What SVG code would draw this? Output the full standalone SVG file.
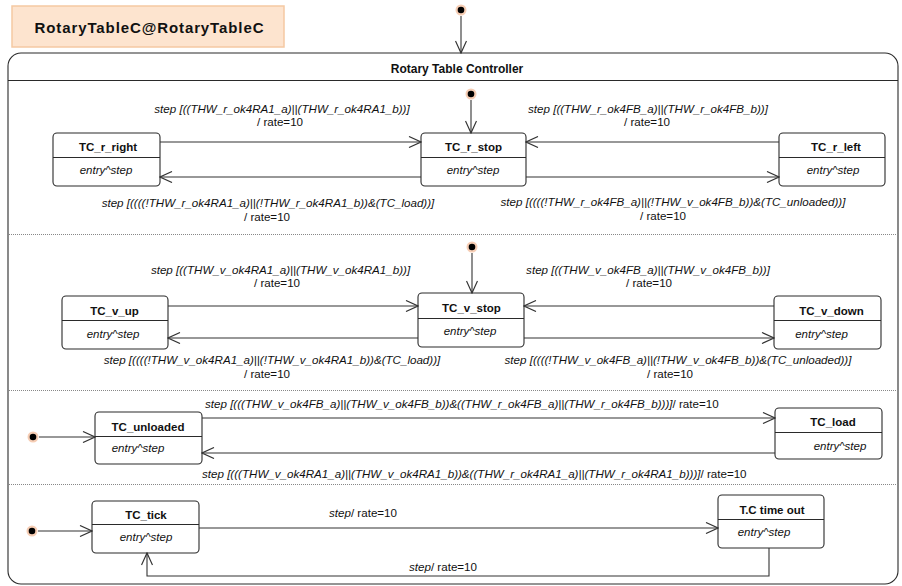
<svg xmlns="http://www.w3.org/2000/svg" width="902" height="586" viewBox="0 0 902 586">
  <style>
    text { font-family: "Liberation Sans", Arial, sans-serif; fill: #111; }
    .name { font-size: 11.5px; font-weight: bold; text-anchor: middle; }
    .entry { font-size: 11.5px; font-style: italic; text-anchor: middle; }
    .lbl { font-size: 11.6px; font-style: italic; text-anchor: middle; }
    .lbl-s { font-size: 11.6px; font-style: italic; }
    .up { font-style: normal; }
    .box { fill: #fff; stroke: #2a2a2a; stroke-width: 1.1; }
    .sep { stroke: #2a2a2a; stroke-width: 1; }
    .edge { fill: none; stroke: #333; stroke-width: 1.1; marker-end: url(#open); }
    .region { stroke: #888; stroke-width: 1; stroke-dasharray: 1 1; }
    .halo { fill: #f6cdb4; }
    .dot { fill: #000; }
  </style>
  <defs>
    <marker id="open" viewBox="0 0 14 12" refX="13" refY="6" markerWidth="14" markerHeight="12" orient="auto" markerUnits="userSpaceOnUse">
      <path d="M1,0.5 L13,6 L1,11.5" fill="none" stroke="#333" stroke-width="1.2"/>
    </marker>
  </defs>

  <!-- package label -->
  <g id="package">
    <rect x="12" y="6" width="272" height="41" fill="#fde4cf" stroke="#f5c9a3" stroke-width="1.5"/>
    <text x="149" y="33" font-size="15" font-weight="bold" text-anchor="middle" textLength="229" lengthAdjust="spacing">RotaryTableC@RotaryTableC</text>
  </g>

  <!-- composite state -->
  <g id="RotaryTableController">
    <rect x="8" y="53" width="890" height="531" rx="13" ry="13" fill="#fff" stroke="#2a2a2a" stroke-width="1.1"/>
    <line class="sep" x1="8" y1="80.5" x2="898" y2="80.5"/>
    <text x="457" y="73" font-size="12" font-weight="bold" text-anchor="middle">Rotary Table Controller</text>
    <line class="region" x1="9" y1="234.5" x2="897" y2="234.5"/>
    <line class="region" x1="9" y1="390.5" x2="897" y2="390.5"/>
    <line class="region" x1="9" y1="484.5" x2="897" y2="484.5"/>
  </g>

  <!-- initial pseudostates -->
  <g id="init-top"><circle class="halo" cx="461" cy="10" r="5.5"/><circle class="dot" cx="461" cy="10" r="3.3"/></g>
  <g id="init-r"><circle class="halo" cx="471" cy="94" r="5.5"/><circle class="dot" cx="471" cy="94" r="3.3"/></g>
  <g id="init-v"><circle class="halo" cx="472" cy="247" r="5.5"/><circle class="dot" cx="472" cy="247" r="3.3"/></g>
  <g id="init-load"><circle class="halo" cx="33" cy="437" r="5.5"/><circle class="dot" cx="33" cy="437" r="3.3"/></g>
  <g id="init-tick"><circle class="halo" cx="32" cy="531" r="5.5"/><circle class="dot" cx="32" cy="531" r="3.3"/></g>

  <!-- states -->
  <g id="TC_r_right">
    <rect class="box" x="53" y="133" width="107" height="53" rx="4"/>
    <line class="sep" x1="53" y1="157.5" x2="160" y2="157.5"/>
    <text class="name" x="108" y="151">TC_r_right</text>
    <text class="entry" x="106" y="174">entry^step</text>
  </g>
  <g id="TC_r_stop">
    <rect class="box" x="421" y="133" width="105" height="53" rx="4"/>
    <line class="sep" x1="421" y1="157.5" x2="526" y2="157.5"/>
    <text class="name" x="473.5" y="151">TC_r_stop</text>
    <text class="entry" x="473" y="174">entry^step</text>
  </g>
  <g id="TC_r_left">
    <rect class="box" x="779" y="133" width="106" height="53" rx="4"/>
    <line class="sep" x1="779" y1="157.5" x2="885" y2="157.5"/>
    <text class="name" x="836" y="151">TC_r_left</text>
    <text class="entry" x="833" y="174">entry^step</text>
  </g>

  <g id="TC_v_up">
    <rect class="box" x="62" y="296" width="106" height="53" rx="4"/>
    <line class="sep" x1="62" y1="320.5" x2="168" y2="320.5"/>
    <text class="name" x="114.5" y="315">TC_v_up</text>
    <text class="entry" x="113" y="338">entry^step</text>
  </g>
  <g id="TC_v_stop">
    <rect class="box" x="418" y="293" width="106" height="54" rx="4"/>
    <line class="sep" x1="418" y1="318.5" x2="524" y2="318.5"/>
    <text class="name" x="471.5" y="312">TC_v_stop</text>
    <text class="entry" x="470" y="335">entry^step</text>
  </g>
  <g id="TC_v_down">
    <rect class="box" x="774" y="296" width="107" height="53" rx="4"/>
    <line class="sep" x1="774" y1="320.5" x2="881" y2="320.5"/>
    <text class="name" x="831.5" y="315">TC_v_down</text>
    <text class="entry" x="821.5" y="338">entry^step</text>
  </g>

  <g id="TC_unloaded">
    <rect class="box" x="95" y="412" width="107" height="52" rx="4"/>
    <line class="sep" x1="95" y1="436.5" x2="202" y2="436.5"/>
    <text class="name" x="148" y="431">TC_unloaded</text>
    <text class="entry" x="138" y="452">entry^step</text>
  </g>
  <g id="TC_load">
    <rect class="box" x="775" y="408" width="107" height="51" rx="4"/>
    <line class="sep" x1="775" y1="432.5" x2="882" y2="432.5"/>
    <text class="name" x="833" y="426">TC_load</text>
    <text class="entry" x="840" y="450">entry^step</text>
  </g>

  <g id="TC_tick">
    <rect class="box" x="92" y="501" width="107" height="52" rx="4"/>
    <line class="sep" x1="92" y1="524.5" x2="199" y2="524.5"/>
    <text class="name" x="146" y="519">TC_tick</text>
    <text class="entry" x="146" y="541">entry^step</text>
  </g>
  <g id="TC_time_out">
    <rect class="box" x="718" y="495" width="106" height="53" rx="4"/>
    <line class="sep" x1="718" y1="519.5" x2="824" y2="519.5"/>
    <text class="name" x="772" y="514">T.C time out</text>
    <text class="entry" x="764" y="536">entry^step</text>
  </g>

  <!-- transitions -->
  <g id="connectors">
    <path class="edge" d="M461,16 V53"/>
    <path class="edge" d="M471,100 V133"/>
    <path class="edge" d="M472,253 V293"/>
    <path class="edge" d="M39,437 H95"/>
    <path class="edge" d="M38,531 H92"/>

    <path class="edge" d="M160,142 H421"/>
    <path class="edge" d="M421,177 H160"/>
    <path class="edge" d="M779,142 H526"/>
    <path class="edge" d="M526,177 H779"/>

    <path class="edge" d="M168,306 H418"/>
    <path class="edge" d="M418,338 H168"/>
    <path class="edge" d="M774,306 H524"/>
    <path class="edge" d="M524,338 H774"/>

    <path class="edge" d="M202,418 H775"/>
    <path class="edge" d="M775,453 H202"/>

    <path class="edge" d="M199,528 H718"/>
    <path class="edge" d="M769,548 V576 H147 V553"/>

    <text class="lbl" x="282" y="113">step [((THW_r_ok4RA1_a)||(THW_r_ok4RA1_b))]</text>
    <text class="lbl" x="280" y="126"><tspan class="up">/ rate=10</tspan></text>
    <text class="lbl" x="268" y="207">step [((((!THW_r_ok4RA1_a)||(!THW_r_ok4RA1_b))&amp;(TC_load))]</text>
    <text class="lbl" x="267" y="221"><tspan class="up">/ rate=10</tspan></text>
    <text class="lbl" x="648" y="113">step [((THW_r_ok4FB_a)||(THW_r_ok4FB_b))]</text>
    <text class="lbl" x="647" y="126"><tspan class="up">/ rate=10</tspan></text>
    <text class="lbl" x="673" y="206">step [((((!THW_r_ok4FB_a)||(!THW_v_ok4FB_b))&amp;(TC_unloaded))]</text>
    <text class="lbl" x="663" y="220"><tspan class="up">/ rate=10</tspan></text>

    <text class="lbl" x="280.5" y="274">step [((THW_v_ok4RA1_a)||(THW_v_ok4RA1_b))]</text>
    <text class="lbl" x="277" y="287"><tspan class="up">/ rate=10</tspan></text>
    <text class="lbl" x="272" y="364">step [((((!THW_v_ok4RA1_a)||(!THW_v_ok4RA1_b))&amp;(TC_load))]</text>
    <text class="lbl" x="267" y="378"><tspan class="up">/ rate=10</tspan></text>
    <text class="lbl" x="648" y="274">step [((THW_v_ok4FB_a)||(THW_v_ok4FB_b))]</text>
    <text class="lbl" x="649" y="287"><tspan class="up">/ rate=10</tspan></text>
    <text class="lbl" x="678" y="364">step [((((!THW_v_ok4FB_a)||(!THW_v_ok4FB_b))&amp;(TC_unloaded))]</text>
    <text class="lbl" x="670" y="378"><tspan class="up">/ rate=10</tspan></text>

    <text class="lbl-s" x="205" y="408">step [(((THW_v_ok4FB_a)||(THW_v_ok4FB_b))&amp;((THW_r_ok4FB_a)||(THW_r_ok4FB_b)))]<tspan class="up">/ rate=10</tspan></text>
    <text class="lbl-s" x="202" y="478">step [(((THW_v_ok4RA1_a)||(THW_v_ok4RA1_b))&amp;((THW_r_ok4RA1_a)||(THW_r_ok4RA1_b)))]<tspan class="up">/ rate=10</tspan></text>

    <text class="lbl-s" x="329" y="517">step<tspan class="up">/ rate=10</tspan></text>
    <text class="lbl-s" x="409" y="571">step<tspan class="up">/ rate=10</tspan></text>
  </g>
</svg>
